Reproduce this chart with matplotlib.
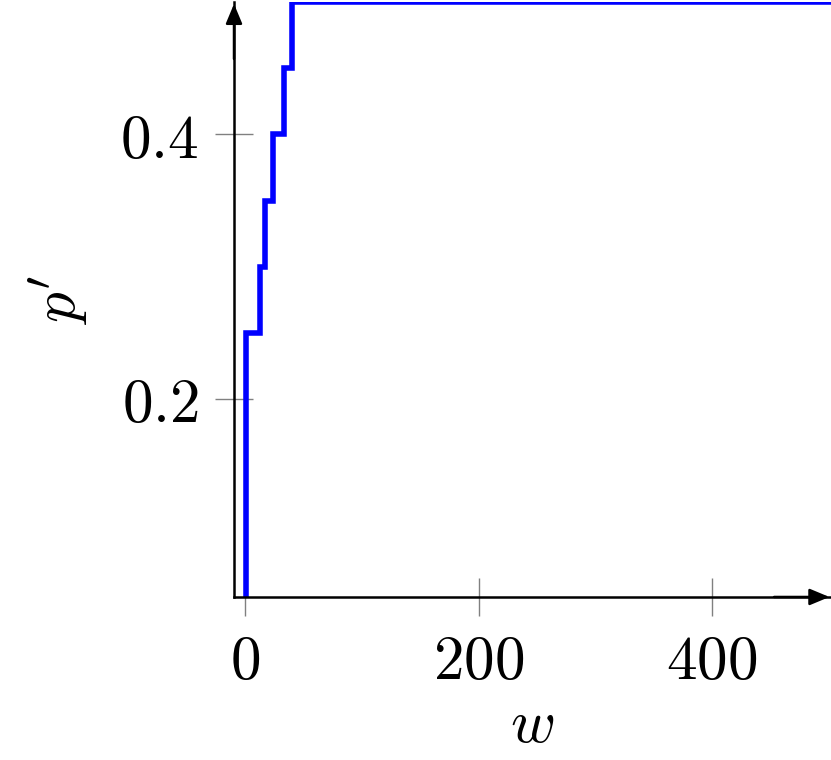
import matplotlib
matplotlib.use("Agg")
import matplotlib.pyplot as plt

plt.rcParams['mathtext.fontset'] = 'cm'
plt.rcParams['font.family'] = 'serif'
plt.rcParams['font.serif'] = ['DejaVu Serif']

# step data
w = [0, 1, 13, 17, 24, 33, 40, 520]
p = [0.0, 0.25, 0.30, 0.35, 0.40, 0.45, 0.50, 0.50]

xticks = [0, 200, 400]
yticks = [0.2, 0.4]

fig = plt.figure(figsize=(8.31, 7.6), dpi=100)
ax = fig.add_axes([0.2816, 0.2145, 0.7184, 0.7825])

ax.plot(w, p, drawstyle='steps-post', color='blue', lw=4, solid_joinstyle='miter')

ax.set_xlim(-9.5, 502)
ax.set_ylim(0.05, 0.5)

for s in ['top', 'right']:
    ax.spines[s].set_visible(False)
for s in ['left', 'bottom']:
    ax.spines[s].set_linewidth(1.8)

# arrow heads at the ends of the axes
arrow = dict(arrowstyle='-|>,head_length=1.2,head_width=0.5', color='black', lw=1.8)
ax.annotate('', xy=(1.002, 0), xytext=(0.9, 0), xycoords='axes fraction', arrowprops=arrow)
ax.annotate('', xy=(0, 1.002), xytext=(0, 0.9), xycoords='axes fraction', arrowprops=arrow)

ax.set_xticks(xticks)
ax.set_xticklabels(['$%d$' % t for t in xticks])
ax.set_yticks(yticks)
ax.set_yticklabels(['$%.1f$' % t for t in yticks])
ax.tick_params(direction='inout', length=27, width=1, color='gray', labelsize=44, pad=12)

ax.set_xlabel('$w$', fontsize=44, labelpad=2)
ax.set_ylabel("$p'$", fontsize=44, labelpad=22)

fig.savefig('out.png', dpi=100)
